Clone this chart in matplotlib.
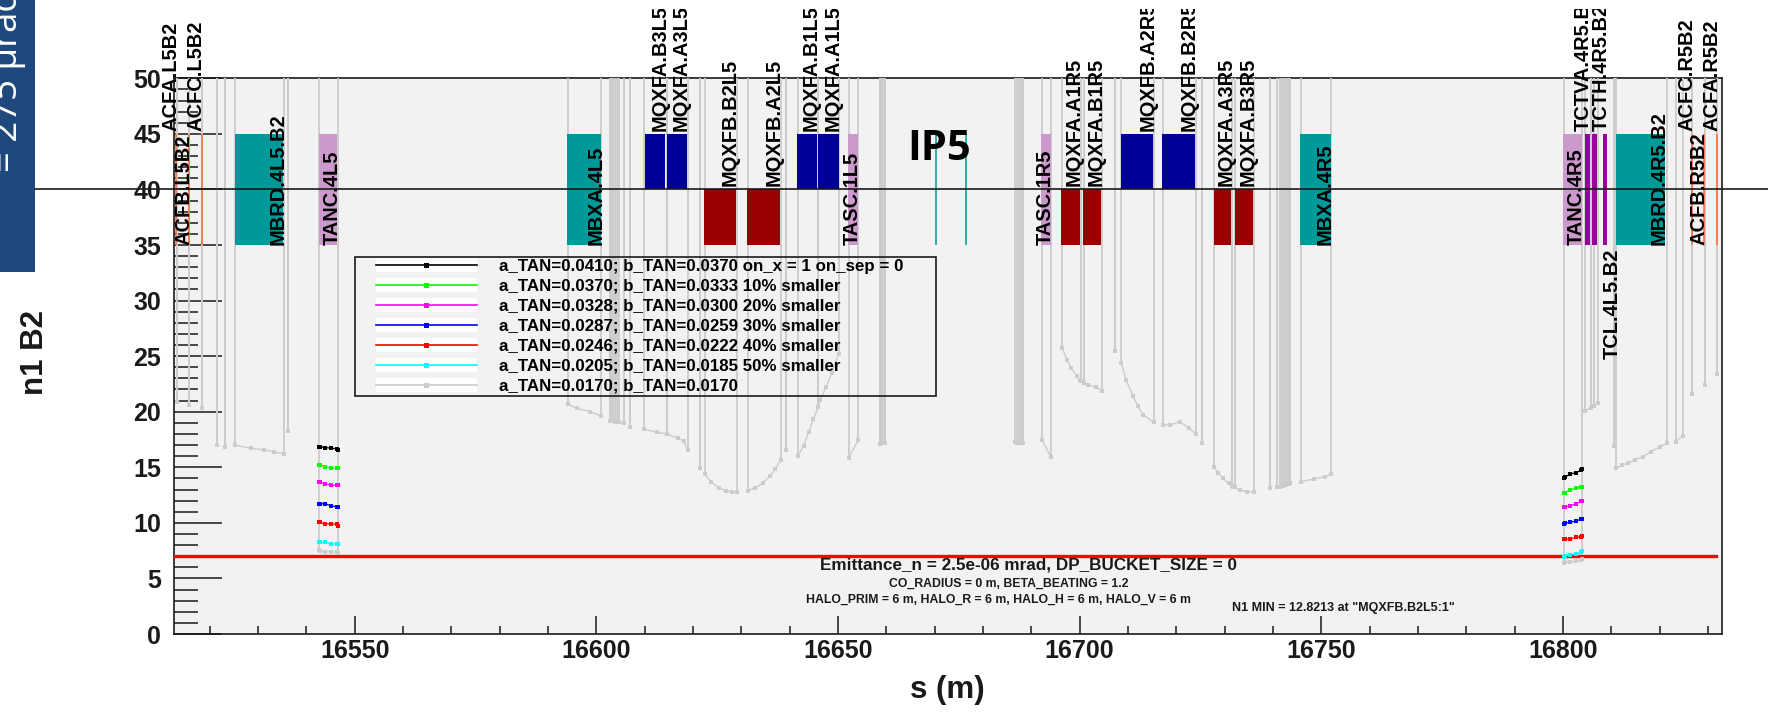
"""n1 aperture around IP5, beam 2, for a range of TAN sizes."""
import matplotlib
matplotlib.use("Agg")
import matplotlib.pyplot as plt
import matplotlib.ticker as mtick
from matplotlib.legend_handler import HandlerTuple
from matplotlib.lines import Line2D
from matplotlib.patches import Rectangle
from matplotlib.transforms import Bbox

plt.rcParams["font.family"] = ["Liberation Sans", "DejaVu Sans"]
plt.rcParams["font.weight"] = "bold"

W, H = 1768, 712
INK = "#1a1a1a"
GREY = "#cccccc"

# ── Beam-screen elements: (start, end) in s ─────────
TEAL_BOXES = [(16525.15, 16535.2), (16594.0, 16601.0), (16745.6, 16752.0), (16810.9, 16821.1)]
PLUM_BOXES = [(16542.6, 16546.4), (16652.1, 16654.1), (16692.0, 16694.1), (16800.1, 16803.9)]
BLUE_BOXES = [(16610.1, 16614.3), (16614.6, 16618.7), (16641.5, 16645.6), (16645.9, 16650.1),
              (16708.45, 16715.2), (16717.0, 16723.8)]
RED_BOXES = [(16622.3, 16628.9), (16631.2, 16637.9), (16696.2, 16700.05), (16700.7, 16704.5),
             (16727.7, 16731.4), (16732.1, 16735.9)]
PURPLE_BOXES = [(16804.5, 16805.5), (16806.1, 16807.0), (16808.35, 16809.2)]
ORANGE_LINES = [16513.0, 16515.8, 16518.3, 16826.6, 16829.25, 16831.9]
THIN_TEAL_LINES = [16670.2, 16676.5]

# ── Element labels: name, s of the text baseline, n1 where the text starts ─────────
LABEL_NAMES = [
    "ACFA.L5B2", "ACFC.L5B2", "ACFB.L5B2", "MBRD.4L5.B2", "TANC.4L5", "MBXA.4L5",
    "MQXFA.B3L5", "MQXFA.A3L5", "MQXFB.B2L5", "MQXFB.A2L5", "MQXFA.B1L5", "MQXFA.A1L5",
    "TASC.1L5", "TASC.1R5", "MQXFA.A1R5", "MQXFA.B1R5", "MQXFB.A2R5", "MQXFB.B2R5",
    "MQXFA.A3R5", "MQXFA.B3R5", "MBXA.4R5", "TANC.4R5", "TCTVA.4R5.B2", "TCTH.4R5.B2",
    "MBRD.4R5.B2", "ACFB.R5B2", "ACFC.R5B2", "ACFA.R5B2",
]
LABEL_S = [
    16513.2, 16518.3, 16515.9, 16535.2, 16546.4, 16601.0,
    16614.3, 16618.7, 16628.9, 16637.9, 16645.6, 16650.1,
    16654.1, 16694.1, 16700.05, 16704.5, 16715.2, 16723.8,
    16731.4, 16735.9, 16752.0, 16803.9, 16805.35, 16809.0,
    16821.1, 16829.25, 16826.85, 16831.9,
]
LABEL_N = [
    45.3, 45.3, 35.0, 35.0, 35.0, 35.0,
    45.3, 45.3, 40.3, 40.3, 45.3, 45.3,
    35.0, 35.0, 40.3, 40.3, 45.3, 45.3,
    40.3, 40.3, 35.0, 35.0, 45.3, 45.3,
    35.0, 35.0, 45.3, 45.3,
]

# ── TAN scan, sampled across the two TANC ─────────
TANC_L_S = [16542.53, 16542.82, 16543.85, 16545.15, 16546.27, 16546.59]
TANC_R_S = [16800.14, 16800.44, 16801.47, 16802.71, 16803.74, 16804.03]
SCAN_COLORS = ["black", "#00ff00", "#ff00ff", "#0000ff", "#ff0000", "#00ffff", GREY]
SCAN_LABELS = [
    "a_TAN=0.0410; b_TAN=0.0370 on_x = 1 on_sep = 0",
    "a_TAN=0.0370; b_TAN=0.0333 10% smaller",
    "a_TAN=0.0328; b_TAN=0.0300 20% smaller",
    "a_TAN=0.0287; b_TAN=0.0259 30% smaller",
    "a_TAN=0.0246; b_TAN=0.0222 40% smaller",
    "a_TAN=0.0205; b_TAN=0.0185 50% smaller",
    "a_TAN=0.0170; b_TAN=0.0170",
]
SCAN_L = [
    [16.87, 16.87, 16.75, 16.75, 16.63, 16.57],
    [15.22, 15.22, 15.06, 14.92, 14.92, 14.92],
    [13.66, 13.66, 13.53, 13.39, 13.39, 13.39],
    [11.72, 11.72, 11.72, 11.54, 11.43, 11.43],
    [10.05, 10.05, 9.92, 9.92, 9.86, 9.74],
    [8.25, 8.25, 8.25, 8.10, 8.10, 8.10],
    [7.56, 7.50, 7.40, 7.40, 7.35, 7.26],
]
SCAN_R = [
    [14.06, 14.10, 14.40, 14.51, 14.76, 14.82],
    [12.71, 12.71, 12.98, 13.11, 13.23, 13.25],
    [11.43, 11.45, 11.54, 11.72, 11.94, 11.99],
    [9.92, 9.96, 10.05, 10.17, 10.32, 10.35],
    [8.52, 8.52, 8.55, 8.70, 8.75, 8.79],
    [6.96, 6.99, 7.13, 7.22, 7.38, 7.44],
    [6.42, 6.45, 6.50, 6.54, 6.66, 6.72],
]

# ── Grey series outside the TANC: every piece drops from the top of the plot ─────────
GREY_S = [
    [16513.2], [16515.8], [16518.3], [16521.6], [16523.2],
    [16525.2, 16528.5, 16531.2, 16533.4, 16535.4], [16536.2],
    [16594.2, 16595.9, 16598.7, 16600.9],
    [16602.9, 16603.2, 16603.5, 16603.8, 16604.1, 16604.4, 16604.7, 16605.7], [16607.0],
    [16609.9, 16612.5, 16614.6, 16616.9, 16618.05, 16618.9], [16614.6],
    [16621.5], [16622.4, 16623.7, 16625.3, 16626.9, 16628.1, 16629.1],
    [16631.4, 16632.8, 16634.4, 16636.0, 16637.0, 16638.1], [16639.2],
    [16641.7, 16642.9, 16643.9, 16644.9, 16645.9, 16646.3, 16647.5, 16648.7, 16650.1], [16645.9],
    [16652.2, 16654.2],
    [16658.6, 16658.9, 16659.2, 16659.5, 16659.7],
    [16686.6, 16687.1, 16687.4, 16687.7, 16688.0, 16688.3],
    [16692.2, 16694.1],
    [16696.4, 16697.4, 16698.3, 16699.4, 16700.1, 16701.7, 16703.3, 16704.6], [16700.35], [16700.9],
    [16707.3],
    [16708.6, 16709.6, 16711.0, 16712.0, 16713.2, 16715.3],
    [16717.2, 16718.7, 16720.7, 16722.7, 16724.1], [16725.3],
    [16727.8, 16728.6, 16729.6, 16730.8, 16731.8, 16733.2, 16734.6, 16736.1], [16731.6], [16732.1],
    [16739.3],
    [16740.8, 16741.5, 16741.8, 16742.1, 16742.4, 16742.7, 16743.0, 16743.3, 16743.5],
    [16745.7, 16748.5, 16750.8, 16752.1],
    [16804.6, 16805.7, 16806.5, 16807.2], [16805.7], [16806.5],
    [16810.5],
    [16811.0, 16812.2, 16813.4, 16814.9, 16816.5, 16818.2, 16820.1, 16821.5],
    [16823.3, 16824.8],
    [16826.7], [16829.3], [16831.9],
]
GREY_N = [
    [20.90], [20.60], [20.36], [17.00], [16.85],
    [17.00, 16.71, 16.56, 16.40, 16.17], [18.27],
    [20.67, 20.31, 20.00, 19.64],
    [19.20, 19.17, 19.14, 19.12, 19.10, 19.07, 19.05, 18.96], [18.65],
    [18.42, 18.15, 18.00, 17.60, 17.37, 16.56], [18.00],
    [14.91], [14.40, 13.70, 13.16, 12.89, 12.78, 12.78],
    [12.89, 13.16, 13.56, 14.24, 14.85, 15.66], [16.56],
    [16.04, 16.94, 18.15, 19.32, 20.45, 21.05, 22.20, 23.46, 25.19], [20.45],
    [15.86, 17.46],
    [17.14, 17.17, 17.20, 17.20, 17.20],
    [17.25, 17.22, 17.20, 17.18, 17.16, 17.16],
    [17.46, 15.90],
    [25.71, 24.65, 23.90, 23.21, 22.85, 22.40, 22.25, 21.89], [22.80], [22.60],
    [25.49],
    [24.41, 22.85, 21.44, 20.51, 19.70, 19.05],
    [18.81, 18.81, 19.10, 18.51, 17.97], [17.16],
    [15.05, 14.51, 14.01, 13.56, 13.25, 12.96, 12.80, 12.80], [13.30], [13.20],
    [13.11],
    [13.20, 13.25, 13.30, 13.34, 13.38, 13.41, 13.46, 13.50, 13.56],
    [13.70, 13.95, 14.15, 14.37],
    [20.07, 20.36, 20.51, 20.76], [20.36], [20.51],
    [16.92],
    [14.91, 15.21, 15.36, 15.66, 15.95, 16.40, 16.85, 17.16],
    [17.30, 17.84],
    [21.59], [22.40], [23.39],
]
# closely packed elements, where the drops merge into a solid band
BAND_S = [
    16602.9, 16603.2, 16603.5, 16603.8, 16604.1, 16604.4, 16604.7,
    16658.6, 16658.9, 16659.2, 16659.5, 16659.7,
    16687.1, 16687.4, 16687.7, 16688.0, 16688.3,
    16741.5, 16741.8, 16742.1, 16742.4, 16742.7, 16743.0, 16743.3, 16743.5,
]
BAND_N = [
    19.20, 19.17, 19.14, 19.12, 19.10, 19.07, 19.05,
    17.14, 17.17, 17.20, 17.20, 17.20,
    17.22, 17.20, 17.18, 17.16, 17.16,
    13.25, 13.30, 13.34, 13.38, 13.41, 13.46, 13.50, 13.56,
]

fig = plt.figure(figsize=(W / 100, H / 100), dpi=100, facecolor="white")
ax = fig.add_axes([174 / W, (H - 634) / H, (1722 - 174) / W, (634 - 78.3) / H])
ax.set_facecolor("#f2f2f2")
ax.set_xlim(16512.61, 16832.9)
ax.set_ylim(0, 50)

for spine in ax.spines.values():
    spine.set_linewidth(1.2)
    spine.set_color(INK)
    spine.set_zorder(1)

ax.xaxis.set_major_locator(mtick.MultipleLocator(50))
ax.xaxis.set_minor_locator(mtick.MultipleLocator(10))
ax.yaxis.set_major_locator(mtick.MultipleLocator(5))
ax.yaxis.set_minor_locator(mtick.MultipleLocator(1))
ax.tick_params(axis="x", which="major", direction="in", length=12.7, width=1.1, color=INK,
               labelsize=18, pad=3.6, labelcolor=INK)
ax.tick_params(axis="x", which="minor", direction="in", length=6, width=1.1, color=INK)
ax.tick_params(axis="y", which="major", direction="in", length=34.5, width=1.1, color=INK,
               labelsize=18, pad=9.4, labelcolor=INK)
ax.tick_params(axis="y", which="minor", direction="in", length=17.3, width=1.1, color=INK)
ax.xaxis.set_major_formatter(mtick.FormatStrFormatter("%d"))

ax.set_xlabel("s (m)", fontsize=22.5, fontweight="bold", va="center", color=INK)
ax.xaxis.set_label_coords(0.4994, -0.1008)
ax.set_ylabel("n1 B2", fontsize=22.5, fontweight="bold", va="center", color=INK)
ax.yaxis.set_label_coords(-0.0895, 0.5057)

# grey aperture pieces
for s_vals, n_vals in zip(GREY_S, GREY_N):
    ax.plot([s_vals[0], s_vals[0]], [n_vals[0], 50], color=GREY, lw=1.3, zorder=3)
    ax.plot([s_vals[-1], s_vals[-1]], [n_vals[-1], 50], color=GREY, lw=1.3, zorder=3)
    ax.plot(s_vals, n_vals, color=GREY, lw=1.0, marker="s", ms=2.8, mew=0, zorder=3)
ax.vlines(BAND_S, BAND_N, 50, color=GREY, lw=1.3, zorder=3)

# the same grey series through the TANC, the scan colours on top
for tan_s, scan in ((TANC_L_S, SCAN_L), (TANC_R_S, SCAN_R)):
    ax.plot([tan_s[0], tan_s[0]], [scan[-1][0], 50], color=GREY, lw=1.3, zorder=3)
    ax.plot([tan_s[-1], tan_s[-1]], [scan[-1][-1], 50], color=GREY, lw=1.3, zorder=3)

for boxes, color, low, high in (
    (TEAL_BOXES, "#009999", 35, 45),
    (PLUM_BOXES, "#cc99cc", 35, 45),
    (BLUE_BOXES, "#000099", 40, 45),
    (RED_BOXES, "#990000", 35, 40),
    (PURPLE_BOXES, "#990099", 35, 45),
):
    for start, end in boxes:
        ax.bar(start, high - low, width=end - start, bottom=low, align="edge",
               color=color, lw=0, zorder=4)
ax.vlines(ORANGE_LINES, 35, 45, color="#ff6633", lw=1.1, zorder=4)
ax.vlines(THIN_TEAL_LINES, 35, 45, color="#009999", lw=1.1, zorder=4)

ax.plot([ax.get_xlim()[0], 16831.6], [7, 7], color="#ff0000", lw=2.4, zorder=5)

for color, left, right in zip(SCAN_COLORS, SCAN_L, SCAN_R):
    ax.plot(TANC_L_S, left, color=color, lw=0.9, marker="s", ms=2.8, mew=0, zorder=6)
    ax.plot(TANC_R_S, right, color=color, lw=0.9, marker="s", ms=2.8, mew=0, zorder=6)

# labels run off the top of the cropped slide
top_clip = Bbox([[0, 0], [W, H - 9]])
for name, s_val, n_val in zip(LABEL_NAMES, LABEL_S, LABEL_N):
    t = ax.text(s_val, n_val, name, rotation=90, rotation_mode="anchor", ha="left", va="baseline",
                fontsize=14.4, fontweight="bold", color="black", zorder=7)
    t.set_clip_path(None)
    t.set_clip_box(top_clip)
    t.set_clip_on(True)
ax.text(16811.3, 34.64, "TCL.4L5.B2", rotation=90, rotation_mode="anchor", ha="right", va="baseline",
        fontsize=14.4, fontweight="bold", color="black", zorder=7)

ax.text(16670.9, 43.6, "IP5", family="Open Sans", fontweight="bold", fontsize=30,
        ha="center", va="center", color="black", zorder=9)

# legend: white strip behind each sample, box drawn to its own size
handles = [
    (Line2D([], [], color="white", lw=10, solid_capstyle="butt"),
     Line2D([], [], color=c, lw=1.2, marker="s", ms=3.6, mew=0))
    for c in SCAN_COLORS
]
ax.add_patch(Rectangle((16550.06, 21.44), 120.24, 12.46, fill=False, ec=INK, lw=1.2, zorder=8))
ax.legend(handles, SCAN_LABELS, handler_map={tuple: HandlerTuple(ndivide=1, pad=0)},
          loc="upper left", bbox_to_anchor=(16554.4, 33.75), bbox_transform=ax.transData,
          frameon=False, numpoints=1, borderpad=0, borderaxespad=0,
          handlelength=5.95, handletextpad=1.3, labelspacing=0.295,
          prop={"weight": "bold", "size": 12.2}).set_zorder(8)

ax.text(16689.5, 6.2, "Emittance_n = 2.5e-06 mrad, DP_BUCKET_SIZE = 0", fontsize=12.3,
        ha="center", va="center", color=INK, zorder=7)
ax.text(16685.4, 4.5, "CO_RADIUS = 0 m, BETA_BEATING = 1.2", fontsize=8.85,
        ha="center", va="center", color=INK, zorder=7)
ax.text(16683.1, 3.06, "HALO_PRIM = 6 m, HALO_R = 6 m, HALO_H = 6 m, HALO_V = 6 m", fontsize=8.85,
        ha="center", va="center", color=INK, zorder=7)
ax.text(16754.5, 2.35, 'N1 MIN = 12.8213 at "MQXFB.B2L5:1"', fontsize=9.0,
        ha="center", va="center", color=INK, zorder=7)

# slide furniture around the pasted plot
fig.add_artist(Rectangle((0, (H - 272) / H), 35 / W, 272 / H, transform=fig.transFigure,
                         color="#1f497d", lw=0, zorder=-1))
fig.text(17.5 / W, (H - 172) / H, "= 275 µrad)", rotation=90, rotation_mode="anchor",
         ha="left", va="baseline", family="Open Sans", fontweight="normal", fontsize=26.4, color="white")
fig.add_artist(Line2D([35 / W, 1], [(H - 189.4) / H] * 2, transform=fig.transFigure,
                      color=INK, lw=1.2, zorder=10))

fig.savefig("out.png", dpi=100)
